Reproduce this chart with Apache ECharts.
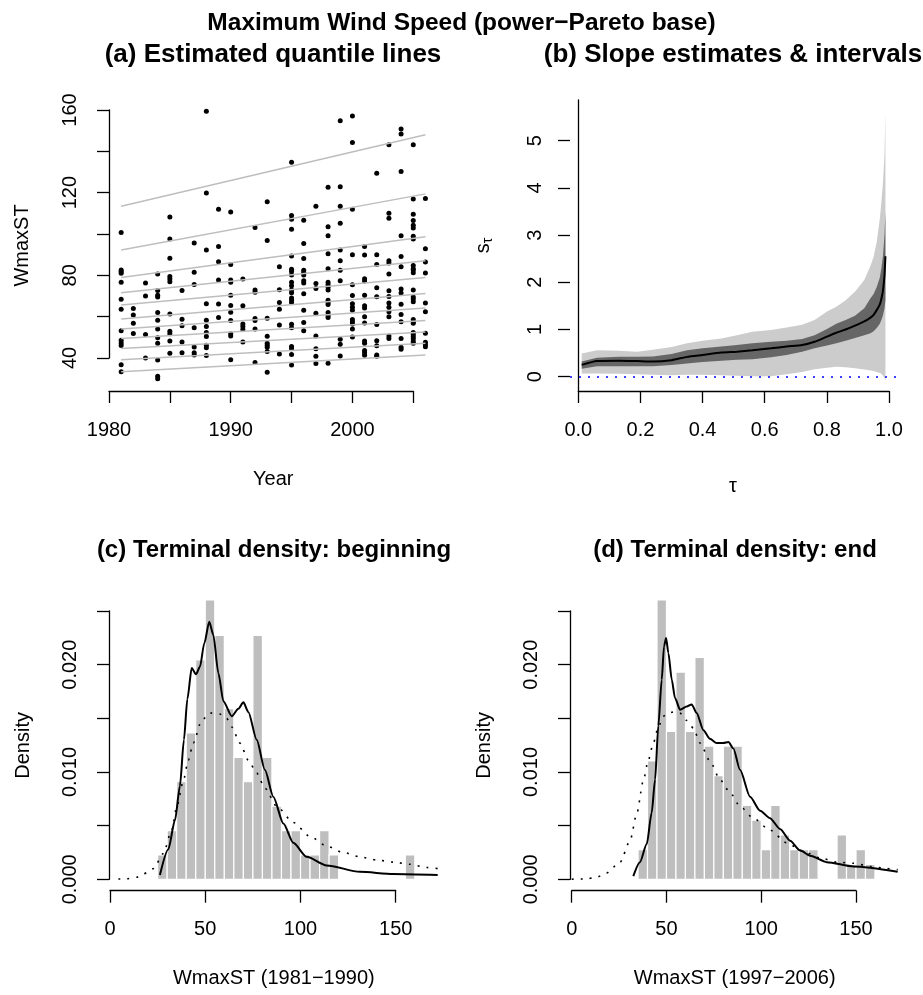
<!DOCTYPE html>
<html>
<head>
<meta charset="utf-8">
<script src="https://cdn.jsdelivr.net/npm/echarts@6/dist/echarts.min.js"></script>
<style>
  html, body { margin: 0; padding: 0; background: #fff; }
  #chart { width: 923px; height: 995px; }
</style>
</head>
<body>
<div id="chart"></div>
<script>
// (a) yearly observations of WmaxST
const scatterYears = [1981, 1982, 1983, 1984, 1985, 1986, 1987, 1988, 1989, 1990, 1991, 1992, 1993,
  1994, 1995, 1996, 1997, 1998, 1999, 2000, 2001, 2002, 2003, 2004, 2005, 2006];
const scatterSpeeds = [
  [100.7, 82.6, 81.8, 81.0, 76.6, 68.4, 63.6, 53.2, 48.6, 47.3, 46.0, 36.8, 33.4],
  [63.9, 60.8, 56.8, 51.9],
  [76.3, 70.0, 51.4, 40.0],
  [80.7, 72.7, 70.4, 69.5, 62.0, 58.3, 54.0, 49.8, 47.1, 39.1, 31.2, 30.0],
  [108.2, 97.6, 88.2, 79.4, 78.2, 76.9, 61.3, 53.0, 51.8, 48.2, 42.3],
  [72.7, 58.7, 55.6, 47.7, 42.6],
  [95.6, 81.5, 75.6, 54.7, 45.3, 42.6, 41.5],
  [159.4, 119.8, 92.3, 66.3, 58.3, 55.2, 52.3, 50.4, 46.2, 45.0, 41.2],
  [111.9, 94.0, 86.6, 77.7, 66.1, 59.6],
  [110.6, 85.2, 77.7, 76.6, 70.4, 65.4, 62.1, 58.1, 51.7, 50.7, 39.2],
  [78.2, 65.3, 56.5, 55.3, 53.8, 47.8],
  [103.1, 72.9, 71.8, 59.1, 58.1, 54.0, 37.8],
  [115.6, 96.9, 59.2, 50.5, 47.2, 46.2, 45.2, 43.1, 33.1],
  [84.2, 73.0, 66.9, 63.6, 56.0, 41.9],
  [134.7, 108.9, 107.1, 102.3, 89.3, 82.9, 81.8, 80.1, 76.6, 75.0, 72.9, 71.6, 69.0, 68.0, 66.8, 56.3, 54.7, 45.6, 44.5, 41.7, 36.6],
  [106.6, 95.4, 88.1, 82.5, 81.4, 80.2, 77.4, 76.3, 71.1, 63.1, 57.2, 53.2],
  [113.4, 76.0, 73.6, 61.6, 50.6, 44.5, 40.9, 37.4],
  [122.6, 103.5, 99.2, 90.4, 83.2, 76.6, 75.4, 74.2, 72.9, 68.0, 66.8, 65.9, 62.0, 60.6, 59.6, 37.5],
  [154.8, 122.9, 113.4, 105.2, 92.3, 87.1, 82.5, 77.4, 49.1, 46.7, 41.0],
  [157.1, 144.2, 111.9, 90.0, 75.5, 70.2, 66.2, 64.5, 63.1, 58.6, 57.5, 56.4, 54.0, 50.2],
  [94.0, 89.8, 78.4, 77.2, 70.4, 65.3, 64.2, 60.0, 56.9, 48.2, 47.1, 43.6, 42.6, 41.4],
  [129.4, 90.0, 85.2, 74.0, 69.6, 56.2, 48.4, 45.9, 41.5, 40.8],
  [143.2, 110.0, 107.6, 87.0, 86.0, 80.7, 72.5, 69.7, 66.6, 64.5, 62.4, 60.0, 50.6, 49.4],
  [150.8, 148.4, 130.2, 99.2, 89.1, 84.1, 73.4, 71.4, 66.0, 61.1, 57.5, 49.4, 45.2, 44.2],
  [143.2, 116.9, 109.6, 106.5, 104.2, 102.9, 98.9, 97.6, 84.7, 83.2, 82.6, 81.3, 72.9, 69.5, 68.6, 67.2, 58.6, 57.6, 56.8, 52.4, 51.4, 50.3, 49.3, 48.0, 47.1],
  [117.1, 92.8, 86.5, 81.1, 66.6, 62.4, 52.0, 47.6, 46.6, 45.4]
];
// (a) quantile lines: value at first and last year
const lineYears = [1981, 2006];
const lineStart = [33.4, 39.2, 44.6, 49.5, 54.0, 58.9, 65.6, 71.6, 79.0, 92.2, 113.4];
const lineEnd   = [41.5, 47.1, 52.6, 58.1, 64.2, 71.2, 78.9, 87.0, 98.7, 119.4, 148.0];

// (b) slope estimates and intervals
const tau      = [0.011, 0.06, 0.13, 0.19, 0.24, 0.30, 0.35, 0.40, 0.46, 0.51, 0.56, 0.62, 0.67, 0.72, 0.76, 0.80, 0.83, 0.86, 0.89, 0.92, 0.94, 0.95, 0.96, 0.97, 0.975, 0.98, 0.985, 0.988];
const slopeMid = [0.25, 0.33, 0.34, 0.33, 0.32, 0.35, 0.42, 0.46, 0.51, 0.53, 0.56, 0.60, 0.64, 0.67, 0.74, 0.85, 0.93, 1.00, 1.08, 1.17, 1.25, 1.31, 1.41, 1.53, 1.65, 1.82, 2.15, 2.55];
const innerLo  = [0.17, 0.22, 0.22, 0.22, 0.22, 0.25, 0.28, 0.31, 0.34, 0.36, 0.37, 0.41, 0.46, 0.53, 0.60, 0.66, 0.71, 0.76, 0.82, 0.88, 0.92, 0.96, 1.03, 1.12, 1.20, 1.30, 1.45, 1.62];
const innerHi  = [0.32, 0.40, 0.42, 0.42, 0.43, 0.48, 0.56, 0.60, 0.64, 0.67, 0.71, 0.74, 0.76, 0.80, 0.88, 1.01, 1.12, 1.20, 1.29, 1.45, 1.66, 1.75, 1.90, 2.10, 2.30, 2.55, 3.00, 3.50];
const outerLo  = [0.07, 0.07, 0.06, 0.05, 0.04, 0.03, 0.04, 0.04, 0.03, 0.02, 0.01, 0.01, 0.05, 0.10, 0.16, 0.19, 0.21, 0.20, 0.18, 0.15, 0.13, 0.12, 0.10, 0.08, 0.06, 0.02, -0.03, -0.08];
const outerHi  = [0.49, 0.56, 0.55, 0.53, 0.57, 0.63, 0.71, 0.76, 0.81, 0.88, 0.95, 0.99, 1.04, 1.10, 1.20, 1.38, 1.48, 1.62, 1.80, 2.05, 2.35, 2.54, 2.85, 3.35, 3.70, 4.10, 4.70, 5.60];

// (c), (d) histograms: counts per 5-unit bin
const binWidth = 5;
const binStartBeg = 25;
const countsBeg = [1, 2, 4, 6, 9, 12, 10, 7, 5, 4, 10, 5, 3, 2, 2, 1, 1, 2, 1, 0, 0, 0, 0, 0, 0, 0, 1];
const binStartEnd = 35;
const countsEnd = [2, 8, 20, 10, 14, 10, 15, 9, 7, 9, 9, 5, 4, 2, 5, 3, 2, 2, 2, 0, 0, 3, 1, 2, 1];

// (c) estimated terminal density (solid) and base density (dotted)
const kdeBegX = [26.2, 30.6, 34.1, 36.7, 38.8, 40.6, 42.9, 45.1, 47.2, 49.5, 52.1, 54.2, 56.9, 59.5, 63.9, 67.4, 70.0, 72.6, 77.0, 81.3, 85.7, 91.0, 96.2, 103.2, 113.7, 131.2, 148.7, 172.0];
const kdeBegY = [0.0004, 0.0028, 0.0055, 0.0087, 0.0130, 0.0168, 0.0197, 0.0191, 0.0198, 0.0220, 0.0240, 0.0228, 0.0192, 0.0166, 0.0152, 0.0159, 0.0165, 0.0156, 0.0130, 0.0102, 0.0077, 0.0052, 0.0034, 0.0021, 0.0013, 0.0007, 0.0005, 0.0004];
const fitBegX = [4.4, 8.7, 14.0, 17.5, 22.8, 28.0, 32.4, 35.0, 38.5, 41.1, 43.7, 48.1, 52.5, 57.7, 61.2, 63.9, 68.2, 72.6, 77.0, 81.3, 87.5, 96.2, 105.0, 113.7, 122.5, 131.2, 140.0, 148.7, 157.5, 166.3, 172.0];
const fitBegY = [0.00003, 0.00005, 0.0002, 0.0005, 0.0010, 0.0024, 0.0046, 0.0067, 0.0092, 0.0111, 0.0127, 0.0148, 0.0155, 0.0154, 0.0150, 0.0142, 0.0127, 0.0111, 0.0099, 0.0085, 0.0068, 0.0053, 0.0040, 0.0031, 0.0025, 0.0021, 0.0018, 0.0016, 0.0014, 0.0011, 0.0010];

// (d)
const kdeEndX = [32.5, 36.0, 39.6, 42.2, 44.0, 45.7, 47.5, 48.7, 49.8, 51.0, 52.8, 54.5, 57.2, 60.7, 63.3, 65.9, 69.5, 72.9, 76.5, 80.0, 82.7, 85.3, 88.8, 94.1, 99.4, 104.6, 109.9, 115.2, 120.5, 125.8, 134.6, 148.7, 172.0];
const kdeEndY = [0.0003, 0.0016, 0.0033, 0.0062, 0.0093, 0.0143, 0.0186, 0.0217, 0.0225, 0.0211, 0.0186, 0.0169, 0.0158, 0.0161, 0.0163, 0.0155, 0.0139, 0.0131, 0.0127, 0.0127, 0.0128, 0.0122, 0.0102, 0.0077, 0.0064, 0.0057, 0.0047, 0.0036, 0.0027, 0.0022, 0.0016, 0.0012, 0.0007];
const fitEndX = [0, 7.9, 13.2, 18.4, 25.5, 30.8, 34.3, 37.8, 40.4, 43.1, 45.7, 48.4, 51.0, 53.6, 57.1, 60.7, 64.2, 67.7, 73.0, 78.2, 83.5, 88.8, 95.8, 104.6, 113.4, 122.2, 131.0, 139.8, 148.7, 157.5, 166.3, 172.0];
const fitEndY = [0.00001, 0.00004, 0.0002, 0.0006, 0.0016, 0.0036, 0.0061, 0.0092, 0.0111, 0.0127, 0.0142, 0.0152, 0.0155, 0.0156, 0.0155, 0.0148, 0.0141, 0.0127, 0.0110, 0.0093, 0.0081, 0.0068, 0.0057, 0.0046, 0.0034, 0.0026, 0.0020, 0.0016, 0.0015, 0.0012, 0.0010, 0.0009];

const FONT = '"Liberation Sans", Arial, Helvetica, sans-serif';
const BLACK = '#000000';
const axisText = { color: BLACK, fontFamily: FONT, fontSize: 20 };
const dots = [2, 7];

// axis carrying only the title of a plot region
function plotAxis(gi, min, max, name, gap, more) {
  return Object.assign({
    type: 'value', gridIndex: gi, min: min, max: max,
    axisLine: { show: false }, axisTick: { show: false }, axisLabel: { show: false }, splitLine: { show: false },
    name: name, nameLocation: 'middle', nameGap: gap, nameTextStyle: axisText
  }, more || {});
}
// R style axis: line only across the tick range
function tickAxis(gi, min, max, interval, fmt, rotate, showLine, margin) {
  return {
    type: 'value', gridIndex: gi, min: min, max: max, interval: interval,
    axisLine: { show: showLine !== false, lineStyle: { color: BLACK, width: 1.3 } },
    axisTick: { show: true, length: 12, lineStyle: { color: BLACK, width: 1.3 } },
    axisLabel: { show: true, formatter: fmt, rotate: rotate || 0, margin: margin || 29, color: BLACK, fontFamily: FONT, fontSize: 20 },
    splitLine: { show: false }
  };
}
const hidden = gi => ({ type: 'value', gridIndex: gi, show: false });

function histSeries(gi, start, counts) {
  const total = counts.reduce((a, b) => a + b, 0);
  const data = [];
  counts.forEach((c, i) => {
    if (c > 0) data.push([start + i * binWidth, start + (i + 1) * binWidth, c / (total * binWidth)]);
  });
  return {
    type: 'custom', xAxisIndex: gi, yAxisIndex: gi, clip: true, z: 1,
    encode: { x: [0, 1], y: 2 },
    data: data,
    renderItem: function (params, api) {
      const p0 = api.coord([api.value(0), 0]);
      const p1 = api.coord([api.value(1), api.value(2)]);
      const top = Math.max(p1[1], params.coordSys.y);
      return {
        type: 'rect',
        shape: { x: p0[0], y: top, width: p1[0] - p0[0], height: p0[1] - top },
        style: { fill: '#bebebe', stroke: '#ffffff', lineWidth: 1.2 }
      };
    }
  };
}
// interval band as one polygon, upper edge then lower edge back
function bandSeries(lo, hi, color, z) {
  return {
    type: 'custom', xAxisIndex: 3, yAxisIndex: 3, clip: true, z: z,
    data: [[tau[0], lo[0]]],
    renderItem: function (params, api) {
      const pts = [];
      for (let i = 0; i < tau.length; i++) pts.push(api.coord([tau[i], hi[i]]));
      for (let i = tau.length - 1; i >= 0; i--) pts.push(api.coord([tau[i], lo[i]]));
      return { type: 'polygon', shape: { points: pts }, style: { fill: color } };
    }
  };
}
function curve(gi, xs, ys, dotted) {
  return {
    type: 'line', xAxisIndex: gi, yAxisIndex: gi, symbol: 'none', smooth: 0.25, smoothMonotone: 'x', z: 3,
    data: xs.map((x, i) => [x, ys[i]]),
    lineStyle: dotted ? { color: BLACK, width: 1.6, type: dots } : { color: BLACK, width: 2 }
  };
}

const scatterData = [];
scatterYears.forEach((yr, i) => scatterSpeeds[i].forEach(v => scatterData.push([yr, v])));

const mkTitle = (text, x, y, size) => ({
  text: text, left: x, top: y, textAlign: 'center', padding: 0,
  textStyle: { color: BLACK, fontFamily: FONT, fontSize: size, fontWeight: 'bold' }
});

const option = {
  animation: false,
  backgroundColor: '#ffffff',
  title: [
    mkTitle('Maximum Wind Speed (power\u2212Pareto base)', 461.5, 11, 24.5),
    mkTitle('(a) Estimated quantile lines', 273, 42, 26),
    mkTitle('(b) Slope estimates & intervals', 733, 42, 26),
    mkTitle('(c) Terminal density: beginning', 274, 538, 24),
    mkTitle('(d) Terminal density: end', 735, 538, 24)
  ],
  grid: [
    { left: 109, top: 100, width: 328.6, height: 291 },
    { left: 109, top: 381, width: 304.25, height: 10 },
    { left: 109, top: 110, width: 10, height: 248 },
    { left: 570, top: 100, width: 326, height: 291 },
    { left: 578.3, top: 381, width: 310.7, height: 10 },
    { left: 570, top: 140.7, width: 10, height: 236 },
    { left: 110, top: 600, width: 327.7, height: 290.7 },
    { left: 110, top: 880.7, width: 285.7, height: 10 },
    { left: 109, top: 611, width: 10, height: 268.3 },
    { left: 571.7, top: 600, width: 326, height: 290.7 },
    { left: 571.7, top: 880.7, width: 284.3, height: 10 },
    { left: 570, top: 611, width: 10, height: 268.3 }
  ].map(g => Object.assign({ outerBoundsMode: 'none', containLabel: false }, g)),
  xAxis: [
    plotAxis(0, 1980, 2007, 'Year', 78),
    tickAxis(1, 1980, 2005, 5, v => (v % 10 === 0 ? String(v) : '')),
    hidden(2),
    plotAxis(3, -0.0267, 1.022, '\u03c4', 85),
    tickAxis(4, 0, 1, 0.2, v => v.toFixed(1)),
    hidden(5),
    plotAxis(6, 0, 172, 'WmaxST (1981\u22121990)', 78),
    tickAxis(7, 0, 150, 50, v => String(v)),
    hidden(8),
    plotAxis(9, 0, 172, 'WmaxST (1997\u22122006)', 78),
    tickAxis(10, 0, 150, 50, v => String(v)),
    hidden(11)
  ],
  yAxis: [
    plotAxis(0, 24.05, 164.8, 'WmaxST', 77, { nameRotate: 90 }),
    hidden(1),
    tickAxis(2, 40, 160, 20, v => (v % 40 === 0 ? String(v) : ''), 90),
    plotAxis(3, -0.303, 5.86, '{s|s}{t|\u03c4}', 75, {
      nameRotate: 90,
      axisLine: { show: true, lineStyle: { color: BLACK, width: 1.3 } },
      nameTextStyle: Object.assign({}, axisText, {
        rich: {
          s: { fontSize: 20, fontFamily: FONT, color: BLACK },
          t: { fontSize: 14, fontFamily: FONT, color: BLACK, padding: [10, 0, 0, 0] }
        }
      })
    }),
    hidden(4),
    tickAxis(5, 0, 5, 1, v => String(v), 90, false, 25),
    plotAxis(6, -0.00106, 0.02603, 'Density', 77, { nameRotate: 90 }),
    hidden(7),
    tickAxis(8, 0, 0.025, 0.005, v => (Math.round(v * 1000) % 10 === 0 ? v.toFixed(3) : ''), 90),
    plotAxis(9, -0.00106, 0.02603, 'Density', 77, { nameRotate: 90 }),
    hidden(10),
    tickAxis(11, 0, 0.025, 0.005, v => (Math.round(v * 1000) % 10 === 0 ? v.toFixed(3) : ''), 90)
  ],
  series: [
    // (a)
    {
      type: 'scatter', xAxisIndex: 0, yAxisIndex: 0, symbol: 'circle', symbolSize: 5, z: 2,
      itemStyle: { color: BLACK, opacity: 1 }, data: scatterData
    },
    ...lineStart.map((v, i) => ({
      type: 'line', xAxisIndex: 0, yAxisIndex: 0, symbol: 'none', z: 3,
      lineStyle: { color: '#bebebe', width: 1.5 },
      data: [[lineYears[0], v], [lineYears[1], lineEnd[i]]]
    })),
    // (b)
    bandSeries(outerLo, outerHi, '#cccccc', 1),
    bandSeries(innerLo, innerHi, '#666666', 2),
    {
      type: 'line', xAxisIndex: 3, yAxisIndex: 3, symbol: 'none', smooth: 0.2, z: 3,
      lineStyle: { color: BLACK, width: 2 },
      data: tau.map((t, i) => [t, slopeMid[i]]),
      markLine: {
        silent: true, symbol: 'none', label: { show: false },
        lineStyle: { color: '#0000ff', width: 1.6, type: dots },
        data: [{ yAxis: 0 }]
      }
    },
    // (c)
    histSeries(6, binStartBeg, countsBeg),
    curve(6, fitBegX, fitBegY, true),
    curve(6, kdeBegX, kdeBegY, false),
    // (d)
    histSeries(9, binStartEnd, countsEnd),
    curve(9, fitEndX, fitEndY, true),
    curve(9, kdeEndX, kdeEndY, false)
  ]
};

const chart = echarts.init(document.getElementById('chart'));
chart.setOption(option);
</script>
</body>
</html>
